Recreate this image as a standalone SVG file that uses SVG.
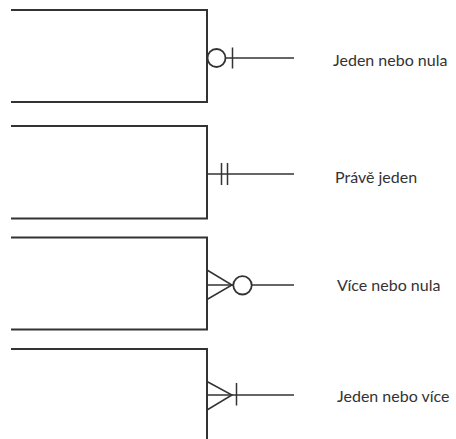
<svg xmlns="http://www.w3.org/2000/svg" width="456" height="439" viewBox="0 0 456 439">
<style>
.box{fill:none;stroke:#333;stroke-width:2}
.ln{fill:none;stroke:#333;stroke-width:1.5}
.c{fill:#fff;stroke:#333;stroke-width:1.8}
text{font-family:Lato,"Open Sans",sans-serif;font-size:16px;fill:#333;dominant-baseline:central}
</style>
<rect width="456" height="439" fill="#fff"/>
<g id="node1">
<polyline class="box" points="11,10 207,10 207,102 11,102"/>
<text x="333" y="59">Jeden nebo nula</text>
</g>
<g id="node2">
<polyline class="box" points="11,126 207,126 207,218.5 11,218.5"/>
<text x="335" y="176">Právě jeden</text>
</g>
<g id="node3">
<polyline class="box" points="11,237.5 207,237.5 207,329.5 11,329.5"/>
<text x="337" y="284">Více nebo nula</text>
</g>
<g id="node4">
<polyline class="box" points="11,349 207,349 207,439"/>
<text x="337" y="395">Jeden nebo více</text>
</g>
<g id="connectors">
<line class="ln" x1="225.5" y1="58" x2="294" y2="58"/>
<circle class="c" cx="216.5" cy="58" r="9"/>
<line class="ln" x1="232.5" y1="47.5" x2="232.5" y2="68.5"/>
<line class="ln" x1="207" y1="174" x2="294" y2="174"/>
<line class="ln" x1="221.5" y1="163" x2="221.5" y2="185"/>
<line class="ln" x1="227.5" y1="163" x2="227.5" y2="185"/>
<polyline class="ln" points="207,270 232,285 207,299.5"/>
<line class="ln" x1="207" y1="285" x2="233" y2="285"/>
<circle class="c" cx="242.5" cy="285.3" r="9.2"/>
<line class="ln" x1="251.7" y1="285" x2="294" y2="285"/>
<polyline class="ln" points="207,381.5 232,395 207,410"/>
<line class="ln" x1="207" y1="395" x2="294" y2="395"/>
<line class="ln" x1="236.5" y1="383" x2="236.5" y2="405.5"/>
</g>
</svg>
